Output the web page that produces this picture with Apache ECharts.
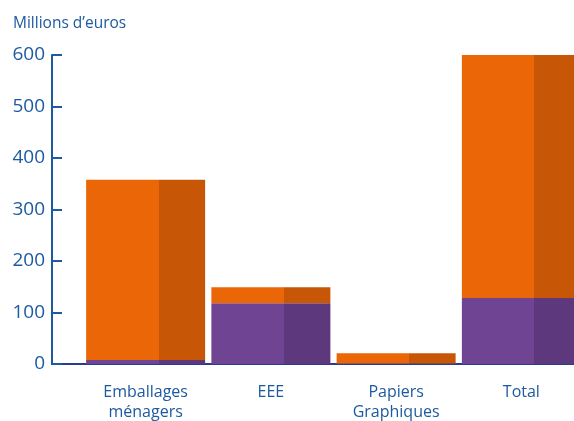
<!DOCTYPE html>
<html><head><meta charset="utf-8">
<script src="https://cdn.jsdelivr.net/npm/echarts@6/dist/echarts.min.js"></script>
<style>html,body{margin:0;padding:0;background:#fff}#c{width:574px;height:421px}</style>
</head><body><div id="c"></div>
<script>
var categories = ['Emballages\nménagers', 'EEE', 'Papiers\nGraphiques', 'Total'];
var purpleValues = [8, 118, 1, 128];
var orangeValues = [350, 31, 20, 472];
var yTicks = [0, 100, 200, 300, 400, 500, 600];

function twoTone(light, dark) {
  return new echarts.graphic.LinearGradient(0, 0, 1, 0, [
    {offset: 0, color: light}, {offset: 0.61, color: light},
    {offset: 0.61, color: dark}, {offset: 1, color: dark}
  ]);
}
var blue = '#1d5aa0';
var chart = echarts.init(document.getElementById('c'));
chart.setOption({
  animation: false,
  title: {text: "Millions d’euros", left: 8, top: 11,
    textStyle: {color: blue, fontSize: 15.5, fontWeight: 'normal', fontFamily: 'Open Sans'}},
  grid: [
    {left: 83, right: -10, top: 55, bottom: 57, outerBoundsMode: 'none', containLabel: false},
    {left: 52, width: 31, top: 55, bottom: 57, outerBoundsMode: 'none', containLabel: false}
  ],
  xAxis: [
    {type: 'category', gridIndex: 0, data: categories,
      axisLine: {lineStyle: {color: '#2a3c8c', width: 2}},
      axisTick: {show: false},
      axisLabel: {color: blue, fontSize: 16, fontFamily: 'Open Sans', lineHeight: 20, margin: 18, interval: 0}},
    {type: 'category', gridIndex: 1, data: [''],
      axisLine: {lineStyle: {color: '#2a3c8c', width: 2}},
      axisTick: {show: false}, axisLabel: {show: false}}
  ],
  yAxis: [
    {type: 'value', gridIndex: 0, min: yTicks[0], max: yTicks[yTicks.length - 1], interval: 100, offset: 31,
      axisLine: {show: true, lineStyle: {color: blue, width: 2}},
      axisTick: {show: true, inside: true, length: 10, lineStyle: {color: blue, width: 2}},
      axisLabel: {color: blue, fontSize: 19, fontFamily: 'Open Sans', margin: 7},
      splitLine: {show: false}},
    {type: 'value', gridIndex: 1, min: 0, max: 600, show: false}
  ],
  series: [
    {type: 'bar', stack: 's', data: purpleValues, barWidth: 119,
      itemStyle: {color: twoTone('#6e4493', '#5e387c')}},
    {type: 'bar', stack: 's', data: orangeValues, barWidth: 119,
      itemStyle: {color: twoTone('#ea6606', '#c75706')}}
  ]
});
</script></body></html>
